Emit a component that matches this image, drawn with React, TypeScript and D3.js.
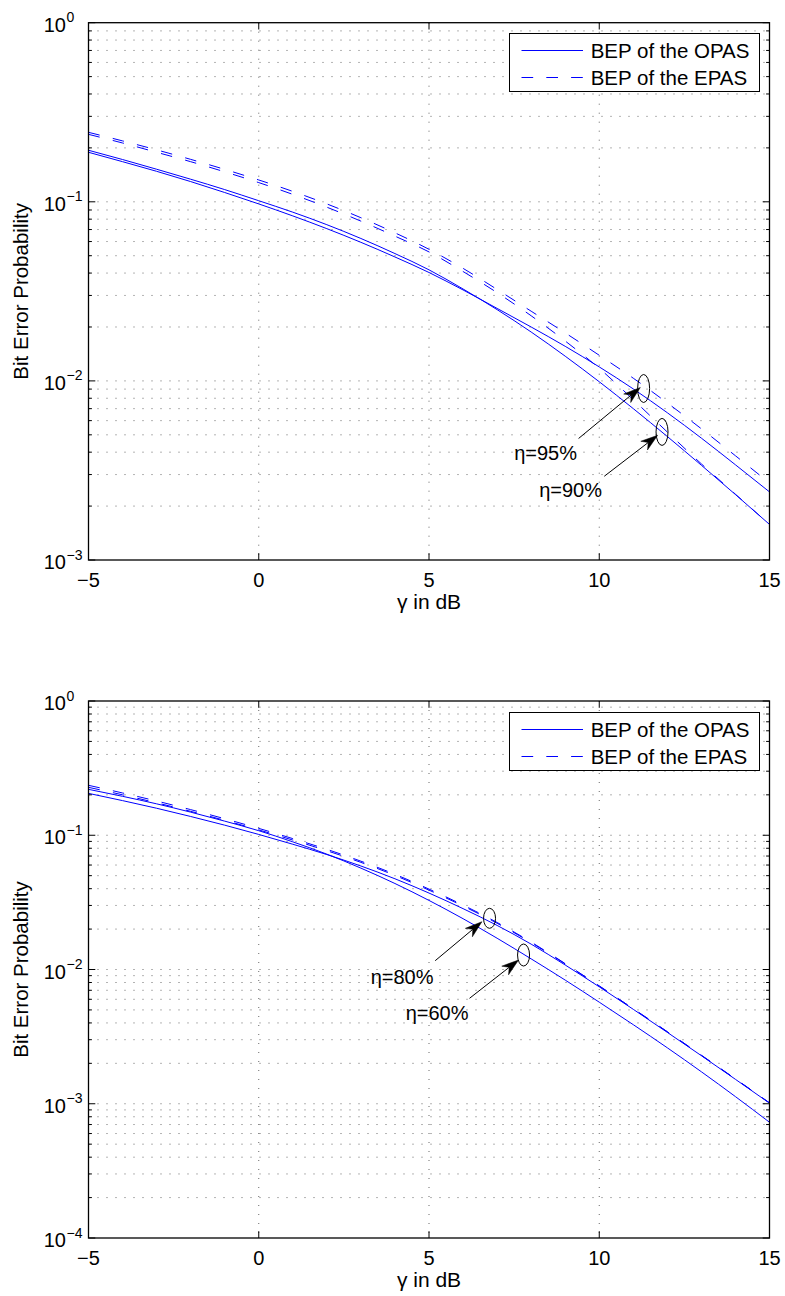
import React from 'react';
import * as d3 from 'd3';

// ---------- data ----------
const GAMMA_DB = [-5, -4, -3, -2, -1, 0, 1, 2, 3, 4, 5, 6, 7, 8, 9, 10, 11, 12, 13, 14, 15];
const X_TICKS = [-5, 0, 5, 10, 15];
const X_TICK_LABELS = ['\u22125', '0', '5', '10', '15'];

// top panel (eta = 95% and 90%)
const TOP_OPAS_95 = [0.189, 0.1675, 0.148, 0.1297, 0.1127, 0.0973, 0.0834, 0.0708, 0.0594, 0.0492, 0.0403, 0.0322, 0.0254, 0.02, 0.0156, 0.01197, 0.00902, 0.00664, 0.00479, 0.0034, 0.0024];
const TOP_OPAS_90 = [0.194, 0.1722, 0.152, 0.1337, 0.117, 0.1014, 0.0875, 0.0745, 0.0624, 0.0514, 0.0417, 0.0326, 0.025, 0.01875, 0.01374, 0.00989, 0.007, 0.00489, 0.00338, 0.00232, 0.00158];
const TOP_EPAS_95 = [0.2443, 0.2188, 0.195, 0.1726, 0.1517, 0.1324, 0.1143, 0.0973, 0.0815, 0.0671, 0.0543, 0.0425, 0.0324, 0.0245, 0.01854, 0.0139, 0.01035, 0.00753, 0.0054, 0.00382, 0.00269];
const TOP_EPAS_90 = [0.238, 0.213, 0.189, 0.1675, 0.147, 0.128, 0.11, 0.0933, 0.078, 0.0643, 0.0525, 0.0408, 0.0311, 0.0231, 0.0167, 0.01175, 0.00785, 0.00518, 0.00344, 0.00233, 0.00158];

// bottom panel (eta = 80% and 60%)
const BOT_OPAS_80 = [0.2051, 0.1811, 0.1589, 0.138, 0.1189, 0.1014, 0.0857, 0.0718, 0.059, 0.0474, 0.0371, 0.0284, 0.0213, 0.01545, 0.0108, 0.00743, 0.00505, 0.0034, 0.00228, 0.00152, 0.00101];
const BOT_OPAS_60 = [0.2198, 0.195, 0.1714, 0.1486, 0.1274, 0.1081, 0.0893, 0.0723, 0.0569, 0.0437, 0.0327, 0.0239, 0.0171, 0.012, 0.00834, 0.00571, 0.00388, 0.00261, 0.00173, 0.00113, 0.000728];
const BOT_EPAS_80 = [0.2355, 0.2065, 0.1799, 0.1552, 0.1327, 0.1125, 0.0944, 0.0785, 0.0641, 0.0512, 0.0397, 0.0302, 0.0224, 0.016, 0.01107, 0.00755, 0.0051, 0.00344, 0.0023, 0.00153, 0.001016];
const BOT_EPAS_60 = [0.2275, 0.2, 0.1744, 0.1507, 0.1291, 0.1096, 0.0921, 0.0767, 0.0628, 0.0502, 0.039, 0.0297, 0.0221, 0.01585, 0.011, 0.00752, 0.00509, 0.00343, 0.00229, 0.00153, 0.001014];

const LEGEND_LABELS = ['BEP of the OPAS', 'BEP of the EPAS'];
const X_LABEL = '\u03B3 in dB';
const Y_LABEL = 'Bit Error Probability';

// annotations: [gamma, BEP]
const TOP_NOTES = [
  { label: '\u03B7=95%', ellipse: [11.303, 0.00907], tip: [11.206, 0.00919], tail: [9.393, 0.00477], text: [9.346, 0.00361], ry: 14 },
  { label: '\u03B7=90%', ellipse: [11.844, 0.00519], tip: [11.715, 0.00497], tail: [10.148, 0.002935], text: [10.08, 0.00224], ry: 13.5 },
];
const BOT_NOTES = [
  { label: '\u03B7=80%', ellipse: [6.778, 0.02406], tip: [6.554, 0.0227], tail: [5.182, 0.01163], text: [5.132, 0.0078], ry: 10 },
  { label: '\u03B7=60%', ellipse: [7.777, 0.01282], tip: [7.63, 0.01177], tail: [6.19, 0.0061], text: [6.161, 0.0042], ry: 11 },
];

// ---------- layout ----------
const W = 785;
const H = 1296;
const PL = 88.5;
const PR = 769.5;
const FONT = '"Liberation Sans", Arial, Helvetica, sans-serif';
const BLUE = '#0000ff';
const DASH = '11.5 13.5';

type Note = { label: string; ellipse: number[]; tip: number[]; tail: number[]; text: number[]; ry: number };

function Panel({ top, bottom, yMin, opas, epas, notes }: { top: number; bottom: number; yMin: number; opas: number[][]; epas: number[][]; notes: Note[] }) {
  const x = d3.scaleLinear().domain([-5, 15]).range([PL, PR]);
  const y = d3.scaleLog().domain([yMin, 1]).range([bottom, top]);
  const allTicks = y.ticks();
  const decades = allTicks.filter((t) => Math.abs(Math.log10(t) - Math.round(Math.log10(t))) < 1e-9);
  const line = d3
    .line<number>()
    .x((_, i) => x(GAMMA_DB[i]))
    .y((d) => y(d))
    .curve(d3.curveMonotoneX);

  const majorLen = 6.8;
  const minorLen = 3.4;
  const legTop = Math.round(top + 10.5) + 0.5;
  const legL = 509.5;
  const legR = 759.5;
  const row1 = Math.round(legTop + 16) + 0.5;
  const row2 = Math.round(legTop + 43) + 0.5;

  return (
    <g>
      {/* grid */}
      {allTicks
        .filter((t) => t > yMin * 1.0001 && t < 0.9999)
        .map((t, i) => (
          <line key={'gh' + i} x1={PL} x2={PR} y1={y(t)} y2={y(t)} stroke="#000" strokeWidth={0.8} strokeDasharray="1 8" strokeOpacity={0.75} />
        ))}
      {X_TICKS.filter((v) => v > -5 && v < 15).map((v, i) => (
        <line key={'gv' + i} x1={x(v)} x2={x(v)} y1={top} y2={bottom} stroke="#000" strokeWidth={0.8} strokeDasharray="1 8" strokeOpacity={0.75} />
      ))}

      {/* curves */}
      {opas.map((s, i) => (
        <path key={'o' + i} d={line(s) || ''} fill="none" stroke={BLUE} strokeWidth={1} />
      ))}
      {epas.map((s, i) => (
        <path key={'e' + i} d={line(s) || ''} fill="none" stroke={BLUE} strokeWidth={1} strokeDasharray={DASH} />
      ))}

      {/* ticks */}
      {allTicks.map((t, i) => {
        const isMajor = decades.includes(t);
        const len = isMajor ? majorLen : minorLen;
        const yy = y(t);
        return (
          <g key={'yt' + i}>
            <line x1={PL} x2={PL + len} y1={yy} y2={yy} stroke="#000" strokeWidth={1} />
            <line x1={PR} x2={PR - len} y1={yy} y2={yy} stroke="#000" strokeWidth={1} />
          </g>
        );
      })}
      {X_TICKS.map((v, i) => (
        <g key={'xt' + i}>
          <line x1={x(v)} x2={x(v)} y1={bottom} y2={bottom - majorLen} stroke="#000" strokeWidth={1} />
          <line x1={x(v)} x2={x(v)} y1={top} y2={top + majorLen} stroke="#000" strokeWidth={1} />
        </g>
      ))}

      {/* box */}
      <rect x={PL} y={top} width={PR - PL} height={bottom - top} fill="none" stroke="#000" strokeWidth={1.3} />

      {/* tick labels */}
      {X_TICKS.map((v, i) => (
        <text key={'xl' + i} x={x(v)} y={bottom + 27} fontSize={20} fontFamily={FONT} textAnchor="middle" fill="#000">
          {X_TICK_LABELS[i]}
        </text>
      ))}
      {decades.map((t, i) => {
        const e = Math.round(Math.log10(t));
        const yy = y(t);
        return (
          <g key={'yl' + i}>
            <text x={66} y={yy + 9} fontSize={20} fontFamily={FONT} textAnchor="end" fill="#000">
              10
            </text>
            <text x={66.5} y={yy - 0.5} fontSize={14} fontFamily={FONT} textAnchor="start" fill="#000">
              {e === 0 ? '0' : '\u2212' + Math.abs(e)}
            </text>
          </g>
        );
      })}

      {/* axis labels */}
      <text x={(PL + PR) / 2} y={bottom + 49} fontSize={21} fontFamily={FONT} textAnchor="middle" fill="#000">
        {X_LABEL}
      </text>
      <text
        transform={`translate(28,${(top + bottom) / 2}) rotate(-90)`}
        fontSize={20.5}
        fontFamily={FONT}
        textAnchor="middle"
        fill="#000"
      >
        {Y_LABEL}
      </text>

      {/* legend */}
      <rect x={legL} y={legTop} width={legR - legL} height={58} fill="#fff" stroke="#000" strokeWidth={1} />
      <line x1={521.5} x2={583} y1={row1} y2={row1} stroke={BLUE} strokeWidth={1} />
      <line x1={521.5} x2={583} y1={row2} y2={row2} stroke={BLUE} strokeWidth={1} strokeDasharray="11.7 13.1" />
      <text x={590.7} y={row1 + 7.2} fontSize={20.5} fontFamily={FONT} fill="#000">
        {LEGEND_LABELS[0]}
      </text>
      <text x={590.7} y={row2 + 7.2} fontSize={20.5} fontFamily={FONT} fill="#000">
        {LEGEND_LABELS[1]}
      </text>

      {/* annotations */}
      {notes.map((n, i) => {
        const ex = x(n.ellipse[0]);
        const ey = y(n.ellipse[1]);
        const tx = x(n.tip[0]);
        const ty = y(n.tip[1]);
        const sx = x(n.tail[0]);
        const sy = y(n.tail[1]);
        const dx = tx - sx;
        const dy = ty - sy;
        const L = Math.hypot(dx, dy);
        const ux = dx / L;
        const uy = dy / L;
        const px = -uy;
        const py = ux;
        const hl = 17;
        const hw = 5.5;
        const bx = tx - ux * hl;
        const by = ty - uy * hl;
        const nx = tx - ux * hl * 0.7;
        const ny = ty - uy * hl * 0.7;
        const head = `M${tx},${ty} L${bx + px * hw},${by + py * hw} L${nx},${ny} L${bx - px * hw},${by - py * hw} Z`;
        return (
          <g key={'n' + i}>
            <ellipse cx={ex} cy={ey} rx={6} ry={n.ry} fill="none" stroke="#000" strokeWidth={1} />
            <line x1={sx} y1={sy} x2={nx} y2={ny} stroke="#000" strokeWidth={1} />
            <path d={head} fill="#000" stroke="#000" strokeWidth={0.5} />
            <text x={x(n.text[0])} y={y(n.text[1])} fontSize={20} fontFamily={FONT} textAnchor="end" fill="#000">
              {n.label}
            </text>
          </g>
        );
      })}
    </g>
  );
}

export default function App() {
  return (
    <svg
      width={W}
      height={H}
      viewBox={`0 0 ${W} ${H}`}
      style={{ position: 'absolute', left: 0, top: 0, background: '#fff' }}
    >
      <rect x={0} y={0} width={W} height={H} fill="#fff" />
      <Panel top={22.7} bottom={560} yMin={1e-3} opas={[TOP_OPAS_95, TOP_OPAS_90]} epas={[TOP_EPAS_95, TOP_EPAS_90]} notes={TOP_NOTES} />
      <Panel top={701} bottom={1238} yMin={1e-4} opas={[BOT_OPAS_80, BOT_OPAS_60]} epas={[BOT_EPAS_80, BOT_EPAS_60]} notes={BOT_NOTES} />
    </svg>
  );
}
